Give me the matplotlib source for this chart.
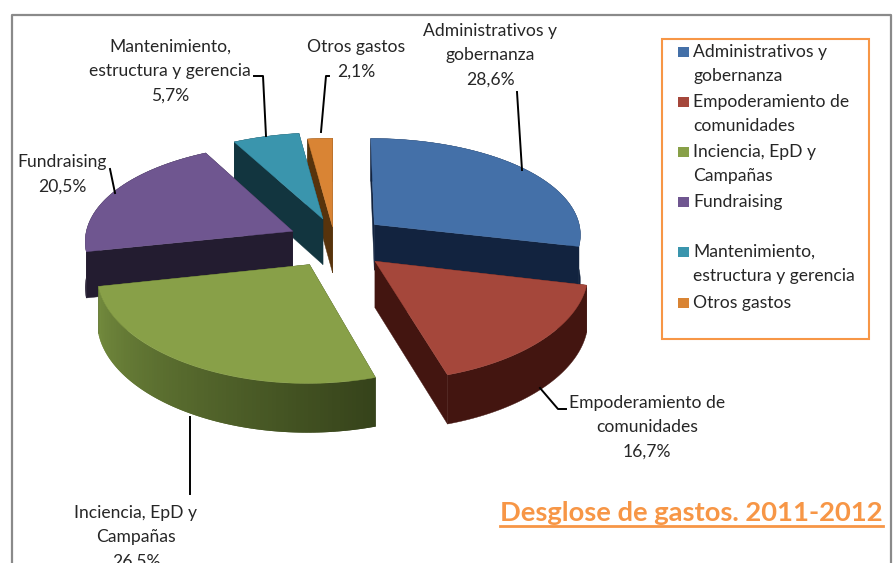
import numpy as np
import matplotlib
matplotlib.use("Agg")
import matplotlib.pyplot as plt
from matplotlib.colors import to_rgb
from matplotlib.patches import Rectangle

# valores del grafico
categorias = ["Administrativos y\ngobernanza", "Empoderamiento de\ncomunidades",
              "Inciencia, EpD y\nCampañas", "Fundraising",
              "Mantenimiento,\nestructura y gerencia", "Otros gastos"]
valores = [28.6, 16.7, 26.5, 20.5, 5.7, 2.1]
titulo = "Desglose de gastos. 2011-2012"

# estilo de cada porcion
color_top = ["#4470a8", "#a5473b", "#88a048", "#6f5690", "#3a95ad", "#d98434"]
color_side = ["#12233f", "#431510", "#748c3e", "#231c30", "#12353f", "#57330c"]
color_side2 = ["#12233f", "#431510", "#35421a", "#231c30", "#12353f", "#57330c"]
explode = [0.27, 0.29, 0.20, 0.21, 0.16, 0.03]
nudge = [(1, -1), (0, -1), (1, 5), (2, -2), (3, -8), (3, -12)]
orden = [5, 4, 0, 3, 1, 2]

# proyeccion
cx, cy = 330, 242
rx, ry = 208, 100
px, py = 0.09, 0.12
prof = 46

# posicion de textos (pixeles)
pos_label = [(490, 31), (647, 403), (136, 513), (62, 162), (170, 47), (356, 47)]
leaders = [[(517, 92), (522, 170)],
           [(566, 409), (558, 409), (540, 388)],
           [(190, 494), (190, 417)],
           [(110, 169), (115, 193)],
           [(254, 76), (263, 76), (266, 136)],
           [(329, 76), (326, 76), (321, 132)]]
legend_y = [52, 102, 152, 202, 252, 303]

plt.rcParams["font.family"] = ["Lato", "DejaVu Sans"]
col_texto = "#262626"
col_naranja = "#f79646"

fig = plt.figure(figsize=(8.96, 5.63), dpi=100)
ax = fig.add_axes([0, 0, 1, 1])
ax.set_xlim(0, 896)
ax.set_ylim(563, 0)
ax.axis("off")


def proj(x, y, z, off):
    sx = cx + rx * x / (1 + px * y) + off[0]
    sy = cy - ry * y / (1 + py * y) + prof * z * (1 - 0.06 * y) + off[1]
    return sx, sy


def face(pts, color, z):
    xs, ys = zip(*pts)
    ax.fill(xs, ys, facecolor=color, edgecolor=color, linewidth=0.3, zorder=z)


# marco
ax.plot([12, 12, 891, 891], [570, 15, 15, 570], color="#8a8a8a", lw=1.6, zorder=1)

cortes = np.cumsum([0] + valores) / sum(valores) * 2 * np.pi
for n, i in enumerate(orden):
    a0, a1 = cortes[i], cortes[i + 1]
    mid = (a0 + a1) / 2
    ox, oy = explode[i] * np.sin(mid), explode[i] * np.cos(mid)
    th = np.linspace(a0, a1, int(np.degrees(a1 - a0)) + 2)
    ax_x = ox + np.sin(th)
    ax_y = oy + np.cos(th)
    z = 10 + n
    off = nudge[i]

    # caras de corte
    for a in (a0, a1):
        ex, ey = ox + np.sin(a), oy + np.cos(a)
        face([proj(ox, oy, 0, off), proj(ex, ey, 0, off), proj(ex, ey, 1, off), proj(ox, oy, 1, off)], color_side2[i], z)

    # lado exterior
    if color_side[i] == color_side2[i]:
        arriba = [proj(a, b, 0, off) for a, b in zip(ax_x, ax_y)]
        abajo = [proj(a, b, 1, off) for a, b in zip(ax_x, ax_y)]
        face(arriba + abajo[::-1], color_side[i], z)
    else:
        # degradado por tramos, cada uno pisa un poco al siguiente
        c1, c2 = np.array(to_rgb(color_side[i])), np.array(to_rgb(color_side2[i]))
        for k in range(len(th) - 1, 0, -1):
            t = k / (len(th) - 1)
            k2 = max(k - 2, 0)
            pts = [proj(ax_x[j], ax_y[j], 0, off) for j in (k, k2)] + [proj(ax_x[j], ax_y[j], 1, off) for j in (k2, k)]
            xs, ys = zip(*pts)
            ax.fill(xs, ys, facecolor=tuple(c2 * (1 - t) + c1 * t), edgecolor="none", zorder=z)

    # cara superior
    top = [proj(ox, oy, 0, off)] + [proj(a, b, 0, off) for a, b in zip(ax_x, ax_y)]
    face(top, color_top[i], z)

# etiquetas y lineas guia
for i, cat in enumerate(categorias):
    pct = f"{valores[i]:.1f}%".replace(".", ",")
    x, y = pos_label[i]
    for j, linea in enumerate((cat + "\n" + pct).split("\n")):
        ax.text(x, y + j * 24.3, linea, ha="center", va="center", fontsize=12.6, color=col_texto, zorder=40)
    xs, ys = zip(*leaders[i])
    ax.plot(xs, ys, color="black", lw=1.4, zorder=39, solid_joinstyle="round")

# leyenda
ax.add_patch(Rectangle((662, 39), 207, 300, facecolor="white", edgecolor=col_naranja, lw=1.5, zorder=5))
for i, cat in enumerate(categorias):
    ax.add_patch(Rectangle((678, legend_y[i] - 5), 11, 10, facecolor=color_top[i], edgecolor="none", zorder=6))
    for j, linea in enumerate(cat.split("\n")):
        ax.text(693, legend_y[i] + j * 24, linea, ha="left", va="center", fontsize=12.6, color=col_texto, zorder=6)

# titulo subrayado
t = ax.text(500, 513, titulo, ha="left", va="center", fontsize=19.7, fontweight="bold", color=col_naranja, zorder=6)
fig.canvas.draw()
bb = t.get_window_extent().transformed(ax.transData.inverted())
ax.plot([bb.x0, bb.x1], [526, 526], color=col_naranja, lw=2, zorder=6)

fig.savefig("out.png", dpi=100, facecolor="white")
